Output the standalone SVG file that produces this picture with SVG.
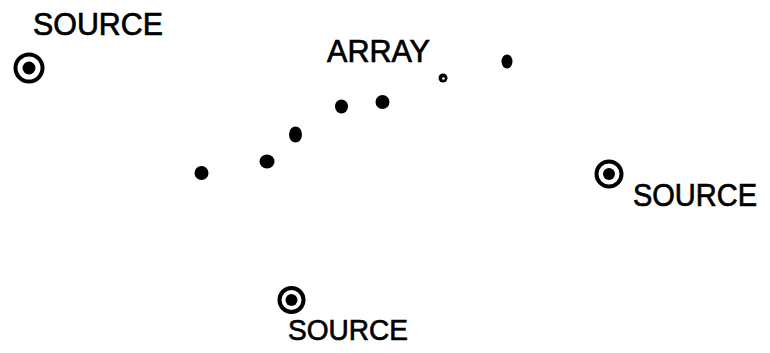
<svg xmlns="http://www.w3.org/2000/svg" width="770" height="353" viewBox="0 0 770 353">
<style>
text{font-family:"Liberation Sans",Arial,sans-serif;fill:#000;stroke:#000;stroke-width:0.7}
.ring{fill:none;stroke:#000;stroke-width:4}
.dot{fill:#000}
</style>
<rect width="770" height="353" fill="#fff"/>
<g id="source-top-left">
<circle class="ring" cx="29" cy="68" r="13.5"/>
<circle class="dot" cx="29" cy="68" r="6.5"/>
<text x="33" y="35" font-size="32" textLength="130" lengthAdjust="spacingAndGlyphs">SOURCE</text>
</g>
<g id="array">
<text x="327" y="62" font-size="31" textLength="103" lengthAdjust="spacingAndGlyphs">ARRAY</text>
<ellipse class="dot" cx="201.5" cy="173" rx="7" ry="7"/>
<ellipse class="dot" cx="267" cy="161.5" rx="7.5" ry="7"/>
<ellipse class="dot" cx="295.5" cy="134.5" rx="6.5" ry="8"/>
<ellipse class="dot" cx="341.5" cy="106.5" rx="6.5" ry="7"/>
<ellipse class="dot" cx="382.5" cy="102" rx="7" ry="7"/>
<circle class="dot" cx="443" cy="78" r="4.5"/>
<circle cx="443.5" cy="78.5" r="1.3" fill="#fff"/>
<ellipse class="dot" cx="507" cy="61.5" rx="5.5" ry="7"/>
</g>
<g id="source-right">
<circle class="ring" cx="609" cy="174" r="12.5"/>
<circle class="dot" cx="609" cy="174" r="6"/>
<text x="633" y="206" font-size="31" textLength="124" lengthAdjust="spacingAndGlyphs">SOURCE</text>
</g>
<g id="source-bottom">
<circle class="ring" cx="291.5" cy="300" r="12"/>
<circle class="dot" cx="291.5" cy="300" r="6"/>
<text x="288" y="340" font-size="30" textLength="120" lengthAdjust="spacingAndGlyphs">SOURCE</text>
</g>
<g id="connectors"/>
</svg>
